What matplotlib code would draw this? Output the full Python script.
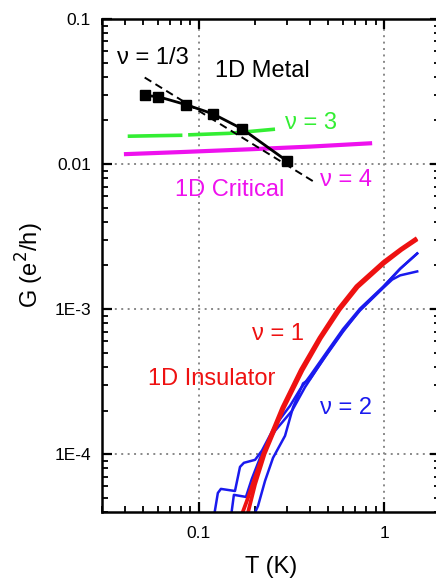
import numpy as np
import matplotlib
matplotlib.use("Agg")
import matplotlib.pyplot as plt
from matplotlib.ticker import FixedLocator, FixedFormatter, LogLocator, NullFormatter

plt.rcParams['font.family'] = ['Liberation Sans', 'DejaVu Sans']

# 1D Metal points (nu = 1/3) and the dashed power-law guide
metal_T = [0.051, 0.060, 0.085, 0.119, 0.171, 0.299]
metal_G = [0.0297, 0.0292, 0.0257, 0.0222, 0.0175, 0.0105]
fit_T = [0.051, 0.413]
fit_G = [0.0395, 0.00762]

# nu = 3 (green) and nu = 4 (magenta, 1D Critical)
nu3_T = [0.0413, 0.060, 0.0815, np.nan, 0.0875, 0.147, 0.2576]
nu3_G = [0.01556, 0.0157, 0.0158, np.nan, 0.0159, 0.0163, 0.0174]
nu4_T = [0.0394, 0.080, 0.1888, 0.40, 0.861]
nu4_G = [0.0117, 0.0121, 0.01265, 0.0132, 0.01393]

# nu = 1 (red, 1D Insulator) - two sweeps
nu1a_T = [0.1687, 0.1816, 0.222, 0.282, 0.355, 0.447, 0.564, 0.708, 0.988, 1.23, 1.472]
nu1a_G = [3.7e-5, 4.77e-5, 1.0e-4, 2.10e-4, 3.82e-4, 6.34e-4, 1.0e-3, 1.44e-3, 2.11e-3, 2.60e-3, 3.04e-3]
nu1b_T = [0.1816, 0.201, 0.226, 0.287, 0.362, 0.455, 0.575, 0.72, 1.0, 1.24, 1.48]
nu1b_G = [3.7e-5, 6.2e-5, 1.0e-4, 2.08e-4, 3.78e-4, 6.3e-4, 9.9e-4, 1.42e-3, 2.07e-3, 2.56e-3, 2.98e-3]

# nu = 2 (blue) - three sweeps
nu2a_T = [0.1205, 0.1266, 0.1315, 0.1566, 0.1667, 0.175, 0.201, 0.219, 0.2576, 0.3105,
          0.3515, 0.40, 0.492, 0.600, 0.741, 0.988, 1.22, 1.507]
nu2a_G = [3.7e-5, 5.41e-5, 5.77e-5, 5.58e-5, 8.18e-5, 8.73e-5, 9.15e-5, 1.06e-4, 1.57e-4, 2.16e-4,
          2.8e-4, 3.5e-4, 5.1e-4, 7.3e-4, 1.01e-3, 1.43e-3, 1.9e-3, 2.42e-3]
nu2b_T = [0.149, 0.1545, 0.1795, 0.193, 0.219, 0.2576, 0.3185, 0.374, 0.4677, 0.600,
          0.741, 0.988, 1.105, 1.22, 1.507]
nu2b_G = [3.7e-5, 5.25e-5, 5.08e-5, 6.76e-5, 1.02e-4, 1.45e-4, 2.0e-4, 2.9e-4, 4.5e-4, 7.1e-4,
          9.8e-4, 1.40e-3, 1.6e-3, 1.71e-3, 1.82e-3]
nu2c_T = [0.196, 0.2085, 0.2275, 0.2512, 0.2917, 0.322, 0.365, 0.398, 0.492, 0.600,
          0.741, 0.988, 1.22, 1.507]
nu2c_G = [3.7e-5, 4.40e-5, 6.55e-5, 9.44e-5, 1.34e-4, 2.1e-4, 3.08e-4, 3.3e-4, 4.9e-4, 7.0e-4,
          9.9e-4, 1.42e-3, 1.9e-3, 2.42e-3]

y_ticks = [1e-4, 1e-3, 1e-2, 1e-1]
y_tick_labels = ["1E-4", "1E-3", "0.01", "0.1"]
x_ticks = [0.1, 1]
x_tick_labels = ["0.1", "1"]

GREEN = "#33ee33"
MAGENTA = "#ee11ee"
RED = "#ee1111"
BLUE = "#1a1aee"

fig = plt.figure(figsize=(4.36, 5.81), dpi=100)
ax = fig.add_axes([0.2339, 0.1188, 0.7752, 0.8485])
ax.set_xscale("log")
ax.set_yscale("log")

# data curves
ax.plot(nu4_T, nu4_G, color=MAGENTA, lw=3.0, solid_capstyle="butt")
ax.plot(nu3_T, nu3_G, color=GREEN, lw=2.6, solid_capstyle="butt")
for T, G in [(nu2a_T, nu2a_G), (nu2b_T, nu2b_G), (nu2c_T, nu2c_G)]:
    ax.plot(T, G, color=BLUE, lw=1.8)
for T, G in [(nu1a_T, nu1a_G), (nu1b_T, nu1b_G)]:
    ax.plot(T, G, color=RED, lw=2.7)
ax.plot(fit_T, fit_G, color="k", lw=1.4, dashes=(4, 2.5))
ax.plot(metal_T, metal_G, color="k", lw=2.0, marker="s", markersize=7)

ax.set_xlim(0.03, 2.0)
ax.set_ylim(4e-5, 0.1)

# ticks
ax.xaxis.set_major_locator(FixedLocator(x_ticks))
ax.xaxis.set_major_formatter(FixedFormatter(x_tick_labels))
ax.yaxis.set_major_locator(FixedLocator(y_ticks))
ax.yaxis.set_major_formatter(FixedFormatter(y_tick_labels))
ax.xaxis.set_minor_locator(LogLocator(base=10, subs=np.arange(2, 10)))
ax.yaxis.set_minor_locator(LogLocator(base=10, subs=np.arange(2, 10)))
ax.xaxis.set_minor_formatter(NullFormatter())
ax.yaxis.set_minor_formatter(NullFormatter())
ax.tick_params(which="both", direction="in", top=True, right=True, labelsize=12.5)
ax.tick_params(which="major", length=7, width=1.6, pad=8)
ax.tick_params(which="minor", length=4, width=1.3)
ax.tick_params(axis="x", which="major", pad=10)
for sp in ax.spines.values():
    sp.set_linewidth(1.8)

ax.grid(which="major", color="#888888", lw=1.4, dashes=(1, 2.3))

ax.set_xlabel("T (K)", fontsize=17, labelpad=11)
ax.set_ylabel("G (e$^2$/h)", fontsize=17, labelpad=6)

# annotations
ax.text(0.0361, 0.0538, "\u03bd = 1/3", fontsize=17, color="k", va="center")
ax.text(0.122, 0.0438, "1D Metal", fontsize=17, color="k", va="center")
ax.text(0.292, 0.0191, "\u03bd = 3", fontsize=17, color=GREEN, va="center")
ax.text(0.451, 0.00773, "\u03bd = 4", fontsize=17, color=MAGENTA, va="center")
ax.text(0.0741, 0.00659, "1D Critical", fontsize=17, color=MAGENTA, va="center")
ax.text(0.1934, 6.79e-4, "\u03bd = 1", fontsize=17, color=RED, va="center")
ax.text(0.053, 3.32e-4, "1D Insulator", fontsize=17, color=RED, va="center")
ax.text(0.451, 2.09e-4, "\u03bd = 2", fontsize=17, color=BLUE, va="center")

fig.savefig("out.png", dpi=100)
